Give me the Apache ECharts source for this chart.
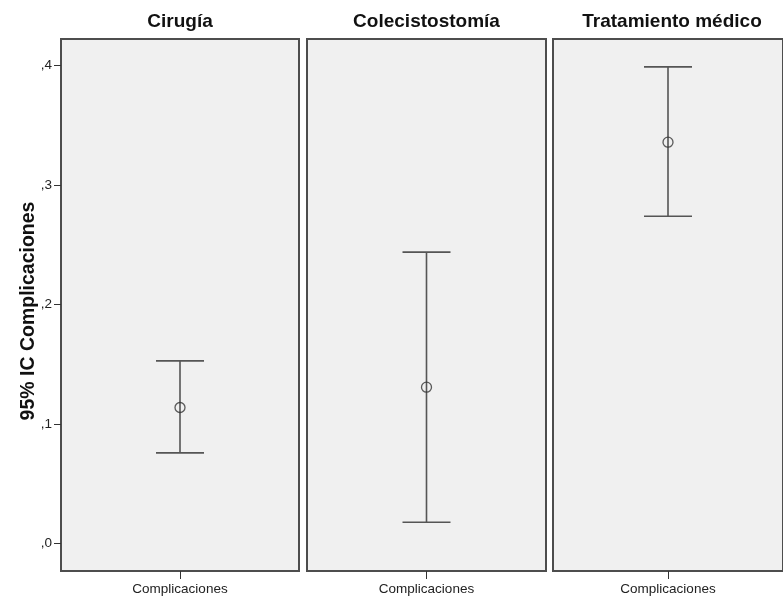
<!DOCTYPE html>
<html>
<head>
<meta charset="utf-8">
<script src="https://cdn.jsdelivr.net/npm/echarts@6/dist/echarts.min.js"></script>
<style>
  html, body { margin: 0; padding: 0; background: #fff; }
  #chart { width: 783px; height: 599px; }
</style>
</head>
<body>
<div id="chart"></div>
<script>
// panels (one per group) and their 95% CI values
const panels = ['Cirugía', 'Colecistostomía', 'Tratamiento médico'];
const category = ['Complicaciones'];
const means = [0.114, 0.131, 0.336];
const lower = [0.076, 0.018, 0.274];
const upper = [0.153, 0.244, 0.399];
const yTicks = [0, 0.1, 0.2, 0.3, 0.4];

const yMin = -0.0228;
const yMax = 0.4223;
const font = 'Arial, "Liberation Sans", sans-serif';
const lineColor = '#555';

// panel boxes in pixels (last one runs past the right edge, like the original)
const boxes = [
  { left: 61, width: 238 },
  { left: 307, width: 239 },
  { left: 553, width: 238 }
];

const myChart = echarts.init(document.getElementById('chart'));

const grids = boxes.map(b => ({
  left: b.left,
  width: b.width,
  top: 39,
  height: 532,
  show: true,
  backgroundColor: '#f0f0f0',
  borderColor: '#4d4d4d',
  borderWidth: 2
}));

const xAxes = panels.map((p, i) => ({
  type: 'category',
  gridIndex: i,
  data: category,
  axisLine: { show: false, onZero: false },
  axisTick: { show: true, alignWithLabel: true, length: 8, lineStyle: { color: '#333', width: 1 } },
  axisLabel: { color: '#222', fontSize: 13.5, fontFamily: font, margin: 11 }
}));

const yAxes = panels.map((p, i) => ({
  type: 'value',
  gridIndex: i,
  min: yMin,
  max: yMax,
  show: i === 0,
  axisLine: { show: false },
  splitLine: { show: false },
  axisTick: {
    show: true,
    length: 7,
    customValues: yTicks,
    lineStyle: { color: '#333', width: 1 }
  },
  axisLabel: {
    color: '#222',
    fontSize: 13.5,
    fontFamily: font,
    margin: 9,
    customValues: yTicks,
    formatter: v => ',' + Math.round(v * 10)
  }
}));

const series = [];
panels.forEach((p, i) => {
  series.push({
    type: 'custom',
    xAxisIndex: i,
    yAxisIndex: i,
    data: [[0, lower[i], upper[i]]],
    encode: { x: 0, y: [1, 2] },
    renderItem: function (params, api) {
      const lo = api.coord([api.value(0), api.value(1)]);
      const hi = api.coord([api.value(0), api.value(2)]);
      const hw = 24;
      const st = { stroke: lineColor, lineWidth: 1.6 };
      return {
        type: 'group',
        children: [
          { type: 'line', shape: { x1: hi[0], y1: hi[1], x2: lo[0], y2: lo[1] }, style: st },
          { type: 'line', shape: { x1: hi[0] - hw, y1: hi[1], x2: hi[0] + hw, y2: hi[1] }, style: st },
          { type: 'line', shape: { x1: lo[0] - hw, y1: lo[1], x2: lo[0] + hw, y2: lo[1] }, style: st }
        ]
      };
    }
  });
  series.push({
    type: 'scatter',
    xAxisIndex: i,
    yAxisIndex: i,
    data: [[0, means[i]]],
    symbol: 'circle',
    symbolSize: 10,
    itemStyle: { color: 'rgba(0,0,0,0)', borderColor: '#333', borderWidth: 1.3 },
    z: 3
  });
});

const titles = panels.map((p, i) => ({
  type: 'text',
  x: boxes[i].left + boxes[i].width / 2,
  y: 22,
  style: {
    text: p,
    fill: '#111',
    font: 'bold 19px ' + font,
    textAlign: 'center',
    textVerticalAlign: 'middle'
  }
}));

myChart.setOption({
  backgroundColor: '#fff',
  animation: false,
  grid: grids,
  xAxis: xAxes,
  yAxis: yAxes,
  series: series,
  graphic: titles.concat([{
    type: 'text',
    x: 29,
    y: 311,
    rotation: Math.PI / 2,
    style: {
      text: '95% IC Complicaciones',
      fill: '#111',
      font: 'bold 19.5px ' + font,
      textAlign: 'center',
      textVerticalAlign: 'middle'
    }
  }])
});
</script>
</body>
</html>
